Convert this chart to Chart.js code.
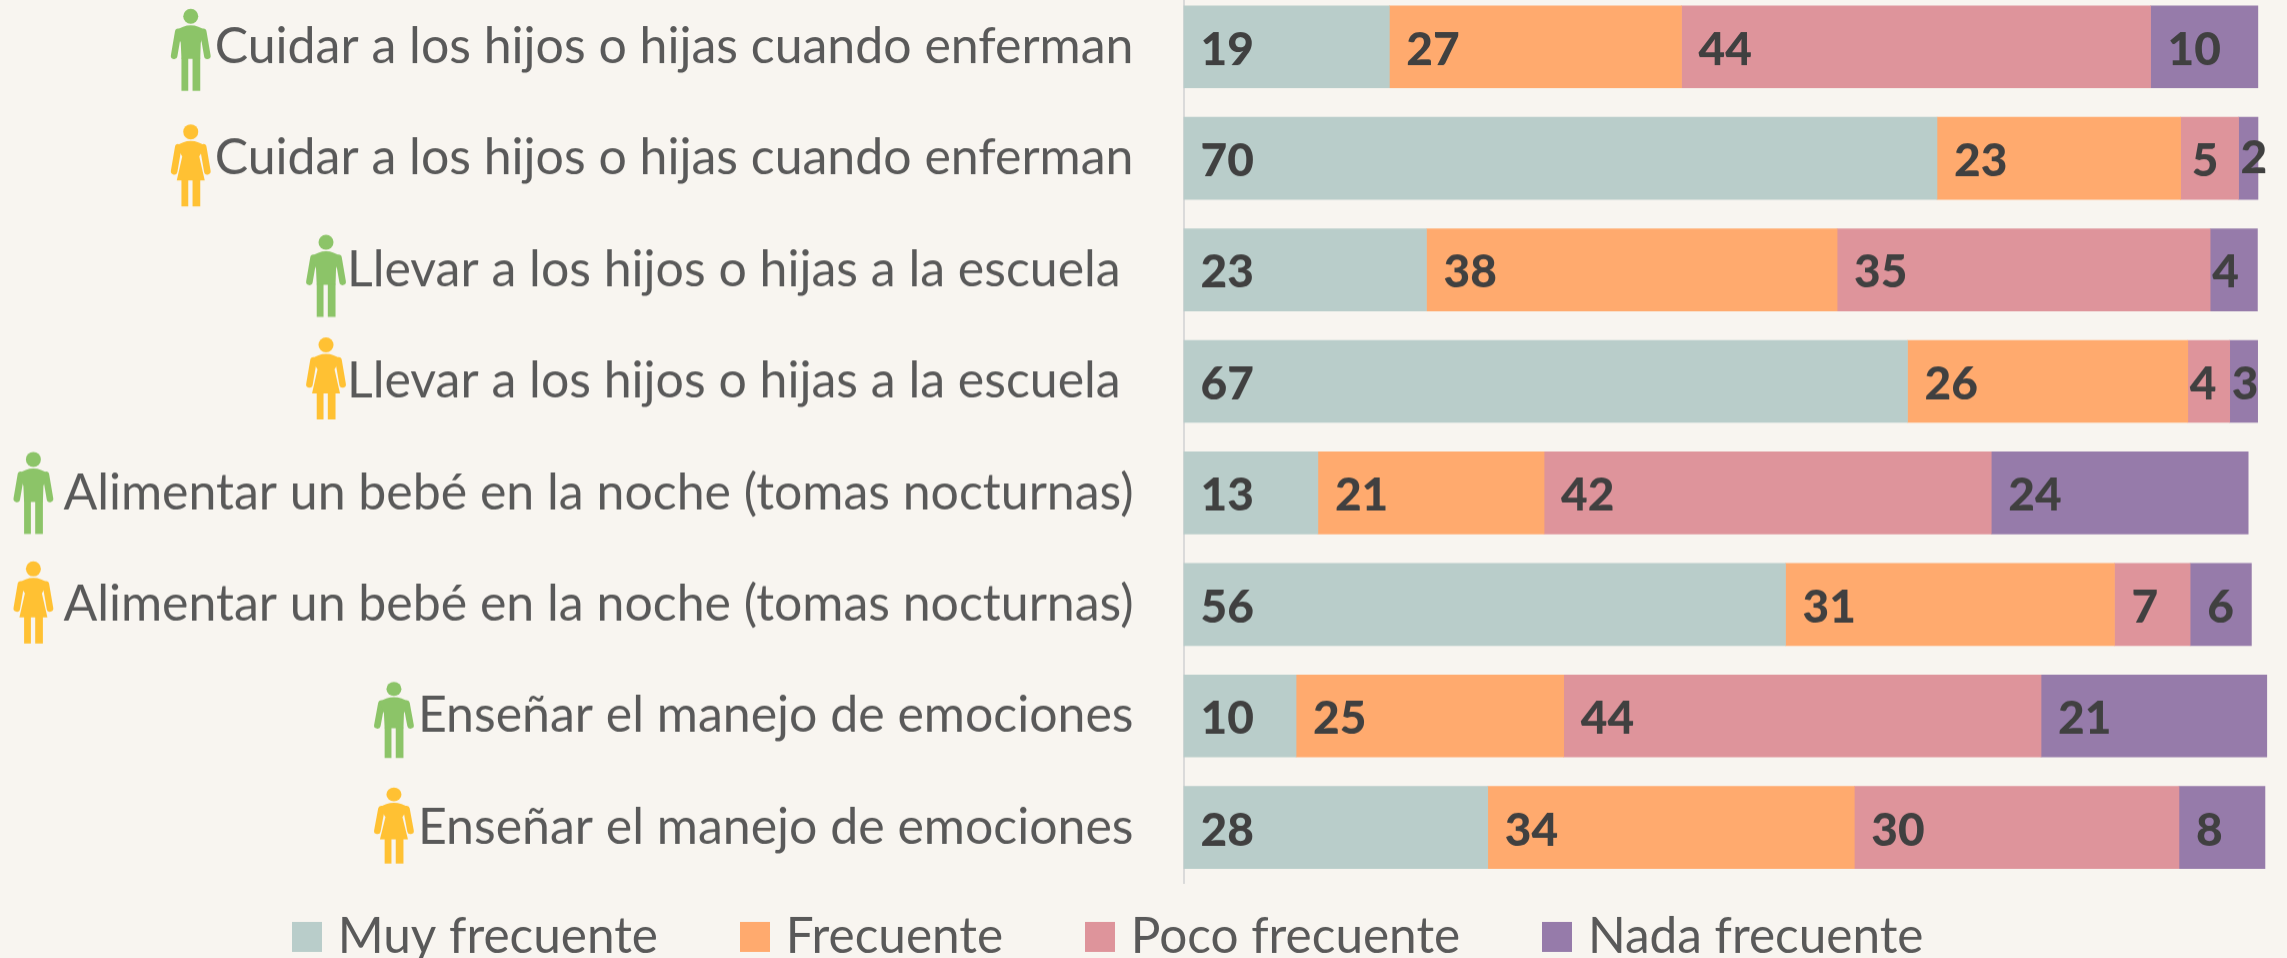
<!DOCTYPE html>
<html lang="es"><head><meta charset="utf-8">
<style>
html,body{margin:0;padding:0;background:#F8F5F0;overflow:hidden;width:2287px;height:958px}
#wrap{position:absolute;left:0;top:0;width:2287px;height:958px;overflow:hidden}
#holder{position:absolute;left:0;top:-9px;width:2287px;height:1041.9px}
</style>
<script src="https://cdn.jsdelivr.net/npm/chart.js@4"></script>
</head><body><div id="wrap"><div id="holder"><canvas id="c"></canvas></div></div>
<script>
const categories = [
  "Cuidar a los hijos o hijas cuando enferman",
  "Cuidar a los hijos o hijas cuando enferman",
  "Llevar a los hijos o hijas a la escuela ",
  "Llevar a los hijos o hijas a la escuela ",
  "Alimentar un bebé en la noche (tomas nocturnas)",
  "Alimentar un bebé en la noche (tomas nocturnas)",
  "Enseñar el manejo de emociones",
  "Enseñar el manejo de emociones"
];
const genders = ["h","m","h","m","h","m","h","m"];
const seriesNames = ["Muy frecuente","Frecuente","Poco frecuente","Nada frecuente"];
const muyFrecuente  = [19.15,70.09,22.6,67.35,12.5,56,10.47,28.3];
const frecuente     = [27.18,22.67,38.2,26.07,21.04,30.6,24.9,34.1];
const pocoFrecuente = [43.63,5.39,34.7,3.9,41.6,7.04,44.4,30.2];
const nadaFrecuente = [9.98,1.8,4.4,2.6,23.9,5.7,21.0,8.0];
const colors = ["#B9CDCA","#FFAA6E","#DE949B","#967BAA"];

const FONT = "Lato, 'Open Sans', sans-serif";
const LEG_PAD = 91;
const iconDx = [44,44,41,41,50,50,44,44];
const iconDy = [3,7,6,-3,0,-2,4,-2];
const iconH  = [82,82,82,82,82,82,76,76];

function swatch(color){
  const s = document.createElement("canvas");
  s.width = 30; s.height = 30;
  const g = s.getContext("2d");
  g.fillStyle = color; g.fillRect(0,0,30,30);
  return s;
}

function drawPerson(ctx, x, y, h, female, color){
  ctx.save();
  ctx.translate(x,y); ctx.scale(1,h/82);
  ctx.fillStyle=color; ctx.strokeStyle=color; ctx.lineCap="round"; ctx.lineWidth=6.6;
  ctx.beginPath(); ctx.ellipse(20,7.5,7.5,7.5,0,0,Math.PI*2); ctx.fill();
  ctx.beginPath(); ctx.moveTo(7.5,23); ctx.lineTo(3.4,47); ctx.moveTo(32.5,23); ctx.lineTo(36.6,47); ctx.stroke();
  ctx.beginPath();
  if(female){
    ctx.moveTo(5.5,22); ctx.quadraticCurveTo(12,16.5,20,16.5); ctx.quadraticCurveTo(28,16.5,34.5,22);
    ctx.lineTo(28.5,32); ctx.lineTo(34,56); ctx.lineTo(6,56); ctx.lineTo(11.5,32);
  }else{
    ctx.moveTo(5.5,22); ctx.quadraticCurveTo(12,16.5,20,16.5); ctx.quadraticCurveTo(28,16.5,34.5,22);
    ctx.lineTo(30,34); ctx.lineTo(29.5,50); ctx.lineTo(10.7,50); ctx.lineTo(10,34);
  }
  ctx.closePath(); ctx.fill();
  ctx.fillRect(10.7,female?55:49,6.8,female?27:33);
  ctx.fillRect(21.8,female?55:49,7.7,female?27:33);
  ctx.restore();
}

const extras = {
  id:"extras",
  afterLayout(chart){
    const l = chart.legend;
    l.left = 301-LEG_PAD;
    l.top = 945 - LEG_PAD - 25;
    l.bottom = l.top + l.height;
  },
  afterDatasetsDraw(chart){
    const ctx = chart.ctx;
    ctx.save();
    ctx.font = "900 46px "+FONT;
    ctx.fillStyle = "#404040";
    ctx.textAlign="left"; ctx.textBaseline="middle";
    chart.data.datasets.forEach((ds,di)=>{
      chart.getDatasetMeta(di).data.forEach((el,i)=>{
        const {x,base,y} = el.getProps(["x","base","y"],true);
        const w = x-base;
        const off = w>=60?17:(w>=50?11:2);
        ctx.fillText(String(Math.round(ds.data[i])), base+off, y+3-(w<25?3:0));
      });
    });
    const ys = chart.scales.y;
    ctx.font = tickFont.size+"px "+FONT;
    categories.forEach((c,i)=>{
      const right = ys.right - ys.options.ticks.padding;
      const left = right - ctx.measureText(c).width;
      const h = iconH[i];
      const yc = ys.getPixelForTick(i);
      drawPerson(ctx, left-iconDx[i], yc-h/2+iconDy[i], h, genders[i]==="m", genders[i]==="m"?"#FFC133":"#8CC468");
    });
    ctx.restore();
  }
};
const tickFont = {family:FONT,size:50};
const chart = new Chart(document.getElementById("c"),{
  type:"bar",
  data:{labels:categories,datasets:[muyFrecuente,frecuente,pocoFrecuente,nadaFrecuente].map((d,i)=>({
    label:seriesNames[i],data:d,backgroundColor:colors[i],borderWidth:0,barThickness:82
  }))},
  plugins:[extras],
  options:{
    indexAxis:"y",responsive:true,maintainAspectRatio:false,animation:false,
    layout:{padding:{left:0,right:7,top:0,bottom:0}},
    plugins:{
      tooltip:{enabled:false},
      title:{display:false},
      legend:{position:"bottom",align:"start",
        labels:{
          usePointStyle:true,pointStyleWidth:12,boxHeight:30,padding:LEG_PAD,color:"#595959",
          font:{family:FONT,size:49.5},
          generateLabels(c){
            return Chart.defaults.plugins.legend.labels.generateLabels(c).map((it,i)=>{
              it.pointStyle = swatch(colors[i]);
              return it;
            });
          }
        }}
    },
    scales:{
      x:{stacked:true,display:false,min:0,max:102},
      y:{stacked:true,grid:{display:false,drawTicks:false},
        border:{display:true,color:"#DADADA",width:2},
        ticks:{color:"#595959",font:tickFont,padding:50,autoSkip:false},
        afterFit(s){ s.width = 1183.5; s.paddingTop = 0; s.paddingBottom = 0; }
      }
    }
  }
});
</script></body></html>
